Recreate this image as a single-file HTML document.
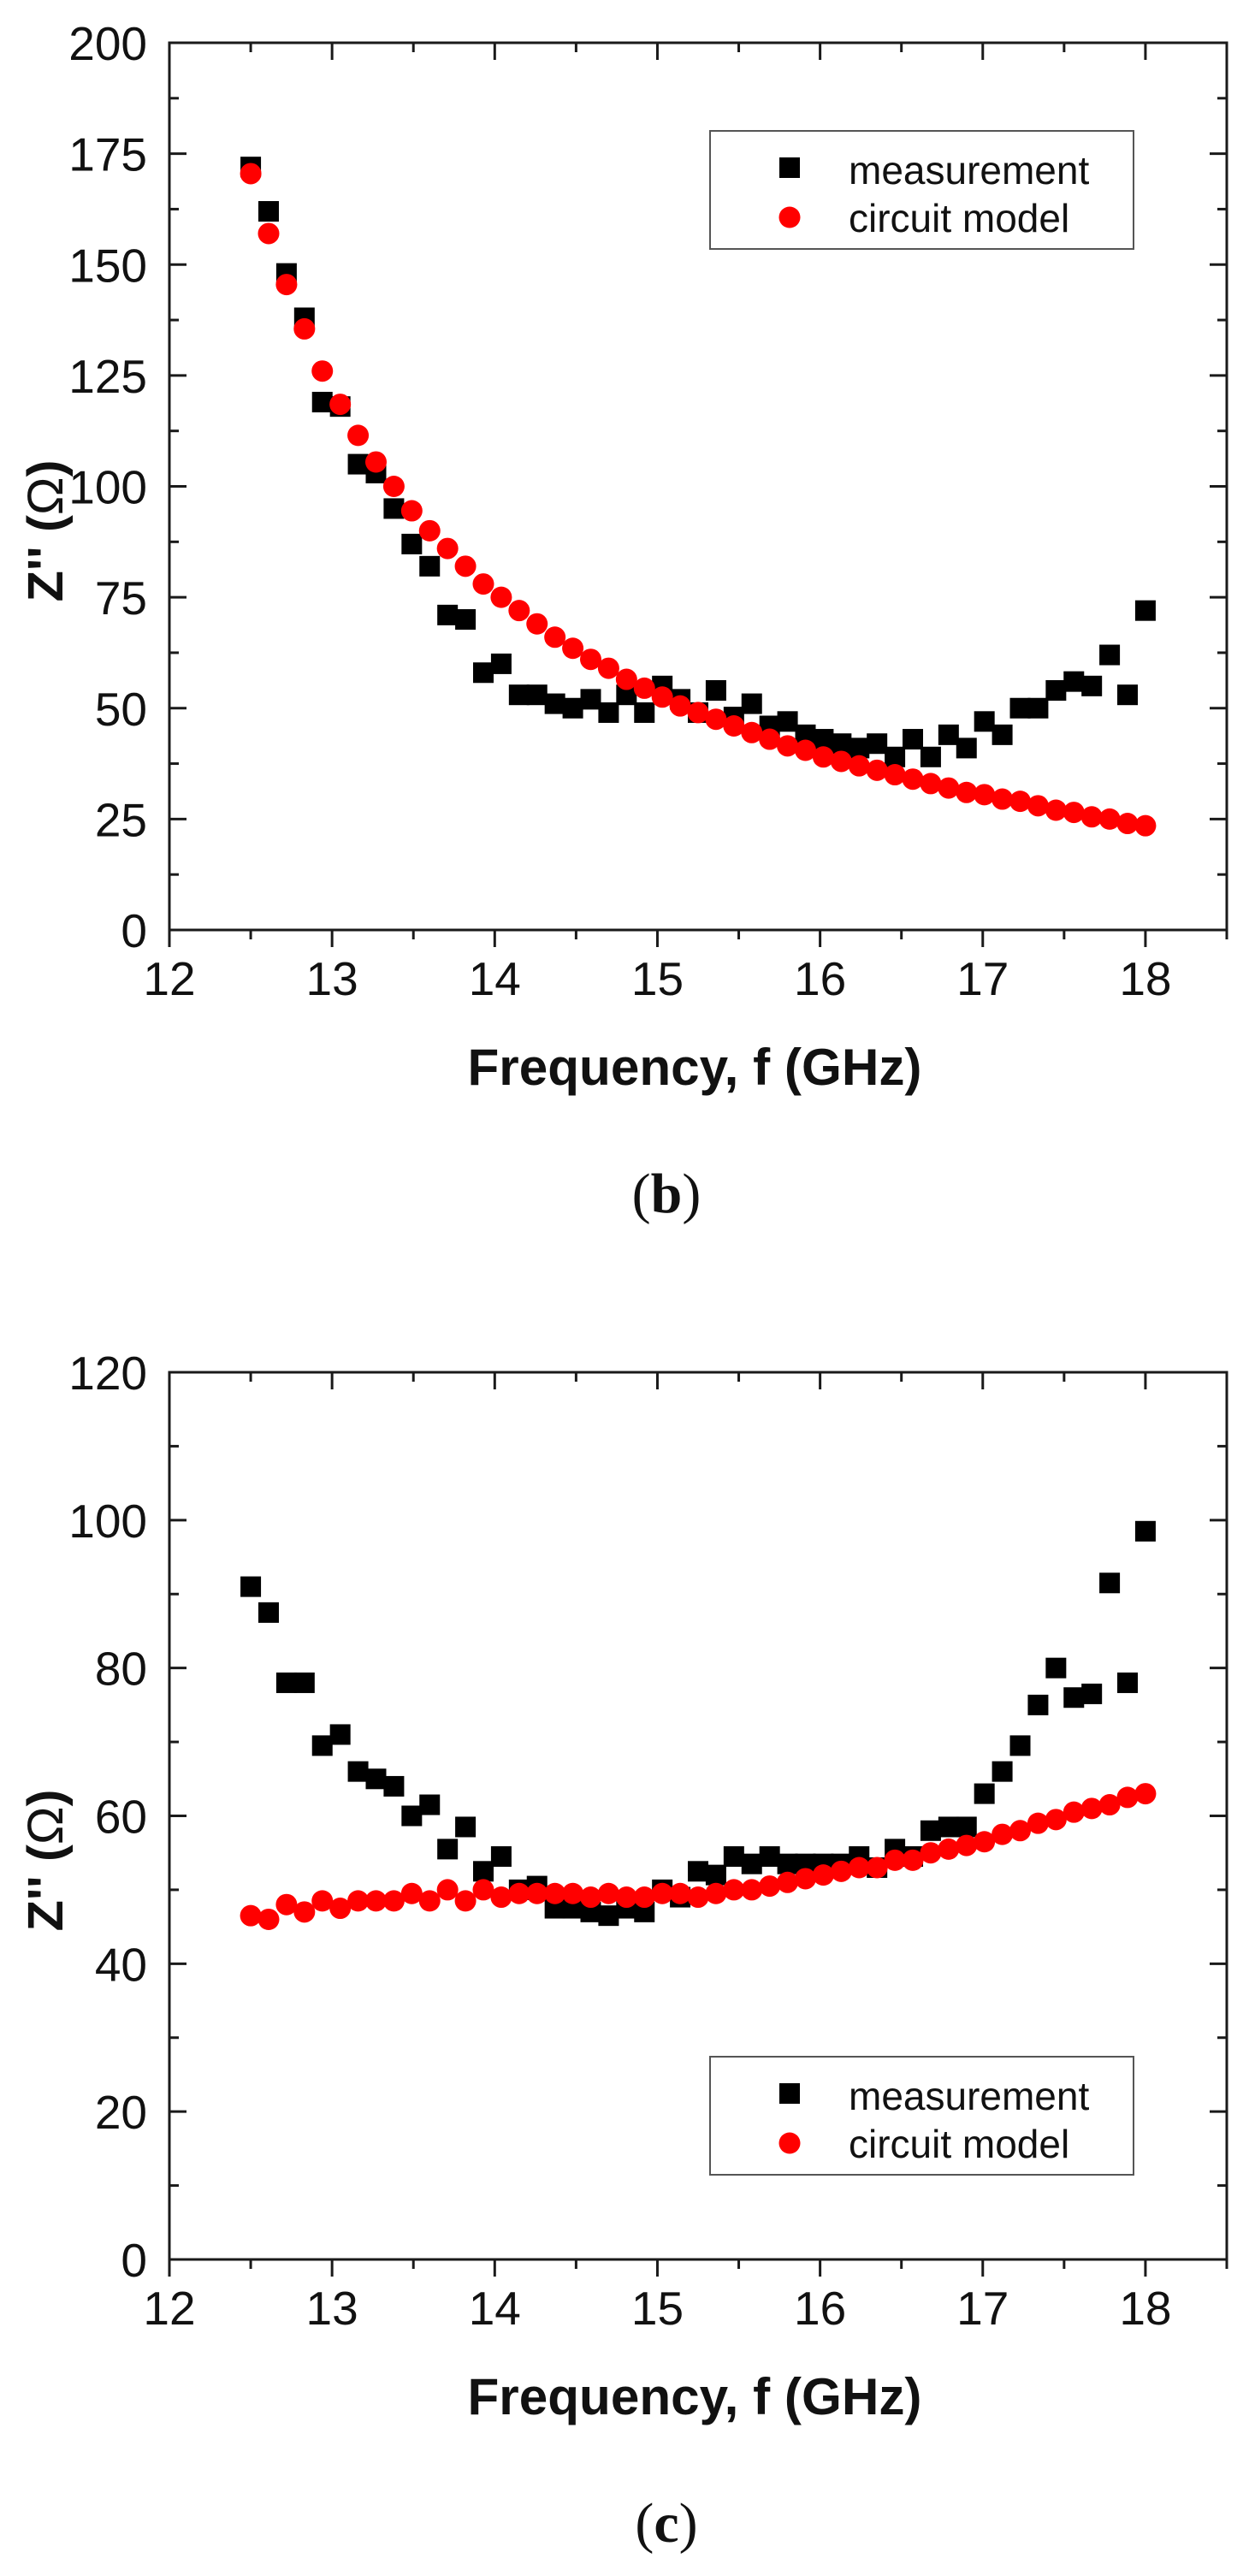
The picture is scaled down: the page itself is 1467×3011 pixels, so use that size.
<!DOCTYPE html>
<html><head><meta charset="utf-8"><style>
html,body{margin:0;padding:0;background:#fff;}
svg{display:block;}
text{font-family:"Liberation Sans",Arial,sans-serif;}
</style></head><body>
<svg id="chart" width="1467" height="3011" viewBox="0 0 1467 3011" xmlns="http://www.w3.org/2000/svg"></svg>
<script>
const freqStart = 12.5, freqStep = 0.11, nPoints = 51;
const measB = [172,162,148,138,119,118,105,103,95,87,82,71,70,58,60,53,53,51,50,52,49,53,49,55,52,49,54,48,51,46,47,44,43,42,41,42,39,43,39,44,41,47,44,50,50,54,56,55,62,53,72];
const modelB = [170.5,157,145.5,135.5,126,118.5,111.5,105.5,100,94.5,90,86,82,78,75,72,69,66,63.5,61,59,56.5,54.5,52.5,50.5,49,47.5,46,44.5,43,41.5,40.5,39,38,37,36,35,34,33,32,31,30.5,29.5,29,28,27,26.5,25.5,25,24,23.5];
const measC = [91,87.5,78,78,69.5,71,66,65,64,60,61.5,55.5,58.5,52.5,54.5,50,50.5,47.5,47.5,47,46.5,47.5,47,50,49,52.5,52,54.5,53.5,54.5,53.5,53.5,53.5,53.5,54.5,53,55.5,54.5,58,58.5,58.5,63,66,69.5,75,80,76,76.5,91.5,78,98.5];
const modelC = [46.5,46,48,47,48.5,47.5,48.5,48.5,48.5,49.5,48.5,50,48.5,50,49,49.5,49.5,49.5,49.5,49,49.5,49,49,49.5,49.5,49,49.5,50,50,50.5,51,51.5,52,52.5,53,53,54,54,55,55.5,56,56.5,57.5,58,59,59.5,60.5,61,61.5,62.5,63];
const xTicks = [12,13,14,15,16,17,18];
const yTicksB = [0,25,50,75,100,125,150,175,200];
const yTicksC = [0,20,40,60,80,100,120];

const NS = "http://www.w3.org/2000/svg";
const svg = document.getElementById('chart');
function mk(tag, attrs, parent){ const e=document.createElementNS(NS,tag); for(const k in attrs) e.setAttribute(k,attrs[k]); (parent||svg).appendChild(e); return e; }

function panel(top, yMax, yMajor, yTicks, meas, model, legTop, label, key){
  const X0=198, X1=1434, Y0=top, Y1=top+1037;
  const xS = v => X0 + (v-12)/(18.5-12)*(X1-X0);
  const yS = v => Y1 - v/yMax*(Y1-Y0);
  const g = mk('g',{});
  
  
  const frame = mk('rect',{x:X0,y:Y0,width:X1-X0,height:Y1-Y0,fill:'none',stroke:'#1a1a1a','stroke-width':3},g);
  
  
  for(let v=12; v<=18.5001; v+=0.5){
    const major = Math.abs(v-Math.round(v))<1e-6;
    const L = major?20:11, x=xS(v);
    mk('line',{x1:x,y1:Y1,x2:x,y2:Y1+L,stroke:'#1a1a1a','stroke-width':3},g);
    mk('line',{x1:x,y1:Y0,x2:x,y2:Y0+L,stroke:'#1a1a1a','stroke-width':3},g);
  }
  for(let v=0; v<=yMax+1e-6; v+=yMajor/2){
    const major = Math.abs(v/yMajor-Math.round(v/yMajor))<1e-6;
    const L = major?20:11, y=yS(v);
    mk('line',{x1:X0,y1:y,x2:X0+L,y2:y,stroke:'#1a1a1a','stroke-width':3},g);
    mk('line',{x1:X1,y1:y,x2:X1-L,y2:y,stroke:'#1a1a1a','stroke-width':3},g);
  }
  xTicks.forEach(v=>{
    const t=mk('text',{x:xS(v),y:Y1+76,'font-size':55,'text-anchor':'middle',fill:'#111'},g);
    t.textContent=v;
    
    
  });
  yTicks.forEach(v=>{
    const t=mk('text',{x:172,y:yS(v)+20,'font-size':55,'text-anchor':'end',fill:'#111'},g);
    t.textContent=v;
    
    
  });
  const xt=mk('text',{x:812,y:Y1+181,'font-size':60,'font-weight':'bold','text-anchor':'middle',fill:'#111',textLength:531,lengthAdjust:'spacingAndGlyphs'},g);
  xt.textContent='Frequency, f (GHz)';
  
  
  const yc=(Y0+Y1)/2+52;
  const yt=mk('text',{x:73,y:yc,'font-size':58,'font-weight':'bold','text-anchor':'middle',fill:'#111',transform:`rotate(-90 73 ${yc})`,textLength:166,lengthAdjust:'spacingAndGlyphs'},g);
  yt.innerHTML='Z\'\' (<tspan font-weight="normal">Ω</tspan>)';
  
  
  meas.forEach((v,i)=>{
    const f=freqStart+i*freqStep;
    const r=mk('rect',{x:xS(f)-12,y:yS(v)-12,width:24,height:24,fill:'#000'},g);
    
    
  });
  model.forEach((v,i)=>{
    const f=freqStart+i*freqStep;
    const c=mk('circle',{cx:xS(f),cy:yS(v),r:12.5,fill:'#ff0000'},g);
    
    
  });
  const lg=mk('g',{},g);
  
  
  mk('rect',{x:830,y:legTop,width:495,height:138,fill:'#fff',stroke:'#555','stroke-width':2},lg);
  mk('rect',{x:911,y:legTop+31,width:24,height:24,fill:'#000'},lg);
  mk('circle',{cx:923,cy:legTop+101,r:12.5,fill:'#ff0000'},lg);
  const t1=mk('text',{x:992,y:legTop+62,'font-size':46,fill:'#111'},lg); t1.textContent='measurement';
  
  
  const t2=mk('text',{x:992,y:legTop+118,'font-size':46,fill:'#111'},lg); t2.textContent='circuit model';
  
  
  const pl=mk('text',{x:779,y:Y1+330,'font-size':66,'text-anchor':'middle',fill:'#111',style:'font-family:"Liberation Serif",serif'},g);
  pl.innerHTML='(<tspan font-weight="bold">'+label+'</tspan>)';
  
  
}
panel(50, 200, 25, yTicksB, measB, modelB, 153, 'b', 'panel-b');
panel(1604, 120, 20, yTicksC, measC, modelC, 2404, 'c', 'panel-c');
</script>
</body></html>
